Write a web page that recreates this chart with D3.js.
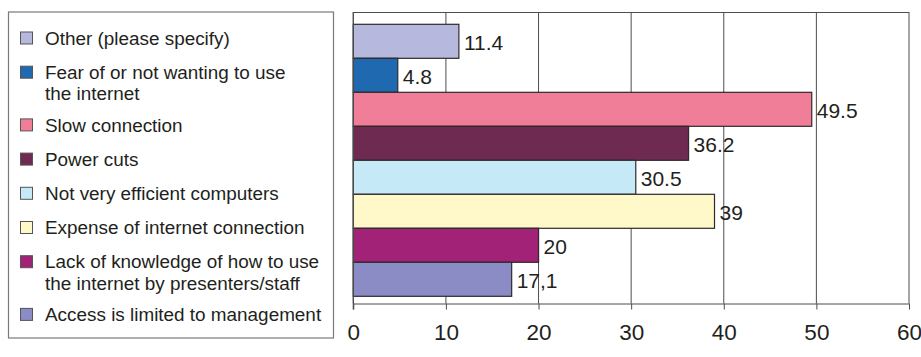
<!DOCTYPE html>
<html>
<head>
<meta charset="utf-8">
<script src="https://cdn.jsdelivr.net/npm/d3@7/dist/d3.min.js"></script>
<style>
  html, body { margin: 0; padding: 0; background: #fff; }
  svg { display: block; font-family: "Liberation Sans", Arial, Helvetica, sans-serif; }
</style>
</head>
<body>
<svg id="chart" width="921" height="357"></svg>
<script>
// Reasons for limited internet use (% of respondents), top bar first
const categories = [
  "Other (please specify)",
  "Fear of or not wanting to use the internet",
  "Slow connection",
  "Power cuts",
  "Not very efficient computers",
  "Expense of internet connection",
  "Lack of knowledge of how to use the internet by presenters/staff",
  "Access is limited to management"
];
// Legend text split into lines
const legendLines = [
  ["Other (please specify)"],
  ["Fear of or not wanting to use", "the internet"],
  ["Slow connection"],
  ["Power cuts"],
  ["Not very efficient computers"],
  ["Expense of internet connection"],
  ["Lack of knowledge of how to use", "the internet by presenters/staff"],
  ["Access is limited to management"]
];
const values = [11.4, 4.8, 49.5, 36.2, 30.5, 39, 20, 17.1];
const valueLabels = ["11.4", "4.8", "49.5", "36.2", "30.5", "39", "20", "17,1"];
const colors = ["#b6b9dd", "#1f69b1", "#f17e99", "#6f2a52", "#c6e9f8", "#fff8c8", "#a12277", "#8b8cc5"];
const xTicks = [0, 10, 20, 30, 40, 50, 60];

const svg = d3.select("#chart");
const ink = "#231f20";
const gridColor = "#4d4d4d";

// ---- plot area ----
const plot = { left: 353.3, right: 909, top: 12, bottom: 303.5 };
const x = d3.scaleLinear().domain([0, 60]).range([plot.left, plot.right]);
const y = d3.scaleBand().domain(categories).range([24.3, 296.3]).padding(0);

// vertical gridlines
svg.append("g").selectAll("line").data(xTicks).join("line")
  .attr("x1", d => x(d)).attr("x2", d => x(d))
  .attr("y1", plot.top).attr("y2", plot.bottom)
  .attr("stroke", gridColor).attr("stroke-width", 1);

// top frame line
svg.append("line")
  .attr("x1", plot.left).attr("x2", plot.right)
  .attr("y1", plot.top + 0.5).attr("y2", plot.top + 0.5)
  .attr("stroke", gridColor).attr("stroke-width", 1);

// bars
svg.append("g").selectAll("rect").data(categories).join("rect")
  .attr("x", x(0))
  .attr("y", d => y(d))
  .attr("width", (d, i) => x(values[i]) - x(0))
  .attr("height", y.bandwidth())
  .attr("fill", (d, i) => colors[i])
  .attr("stroke", "#2e2a2b")
  .attr("stroke-width", 1.2);

// value labels
svg.append("g").selectAll("text").data(categories).join("text")
  .attr("x", (d, i) => x(values[i]) + 5)
  .attr("y", d => y(d) + y.bandwidth() / 2 + 1.5)
  .attr("dy", "0.35em")
  .attr("font-size", 21)
  .attr("fill", ink)
  .text((d, i) => valueLabels[i]);

// bottom axis
const xAxis = d3.axisBottom(x)
  .tickValues(xTicks)
  .tickFormat(d3.format("d"))
  .tickSizeInner(6)
  .tickSizeOuter(0)
  .tickPadding(15);
const axisG = svg.append("g")
  .attr("transform", `translate(0,${plot.bottom})`)
  .call(xAxis);
axisG.select(".domain").attr("stroke", gridColor).attr("stroke-width", 1);
axisG.selectAll(".tick line").attr("stroke", gridColor).attr("stroke-width", 1);
axisG.selectAll(".tick text")
  .attr("font-size", 22.5)
  .attr("font-family", "\"Liberation Sans\", Arial, Helvetica, sans-serif")
  .attr("fill", ink);

// left axis line
svg.append("line")
  .attr("x1", plot.left).attr("x2", plot.left)
  .attr("y1", plot.top).attr("y2", plot.bottom + 6)
  .attr("stroke", gridColor).attr("stroke-width", 1.2);

// ---- legend ----
const legend = { left: 8.5, top: 12, right: 333.5, bottom: 338 };
svg.append("rect")
  .attr("x", legend.left).attr("y", legend.top)
  .attr("width", legend.right - legend.left)
  .attr("height", legend.bottom - legend.top)
  .attr("fill", "#fff")
  .attr("stroke", "#7a7a7a").attr("stroke-width", 1.2);

const itemGap = 34.2, lineGap = 21.5, wrapExtra = 18.5;
let cy = 38;
const legendRows = [];
legendLines.forEach((lines, i) => {
  legendRows.push({ i, lines, cy });
  cy += itemGap + (lines.length - 1) * wrapExtra;
});

const items = svg.append("g").selectAll("g").data(legendRows).join("g");
items.append("rect")
  .attr("x", 20.5).attr("y", d => d.cy - 6)
  .attr("width", 12).attr("height", 12)
  .attr("fill", d => colors[d.i])
  .attr("stroke", "#555").attr("stroke-width", 1);
items.append("text")
  .attr("x", 45)
  .attr("font-size", 18.9)
  .attr("fill", ink)
  .selectAll("tspan").data(d => d.lines.map((t, k) => ({ t, y: d.cy + k * lineGap })))
  .join("tspan")
  .attr("x", 45)
  .attr("y", d => d.y)
  .attr("dy", "0.35em")
  .text(d => d.t);
</script>
</body>
</html>
